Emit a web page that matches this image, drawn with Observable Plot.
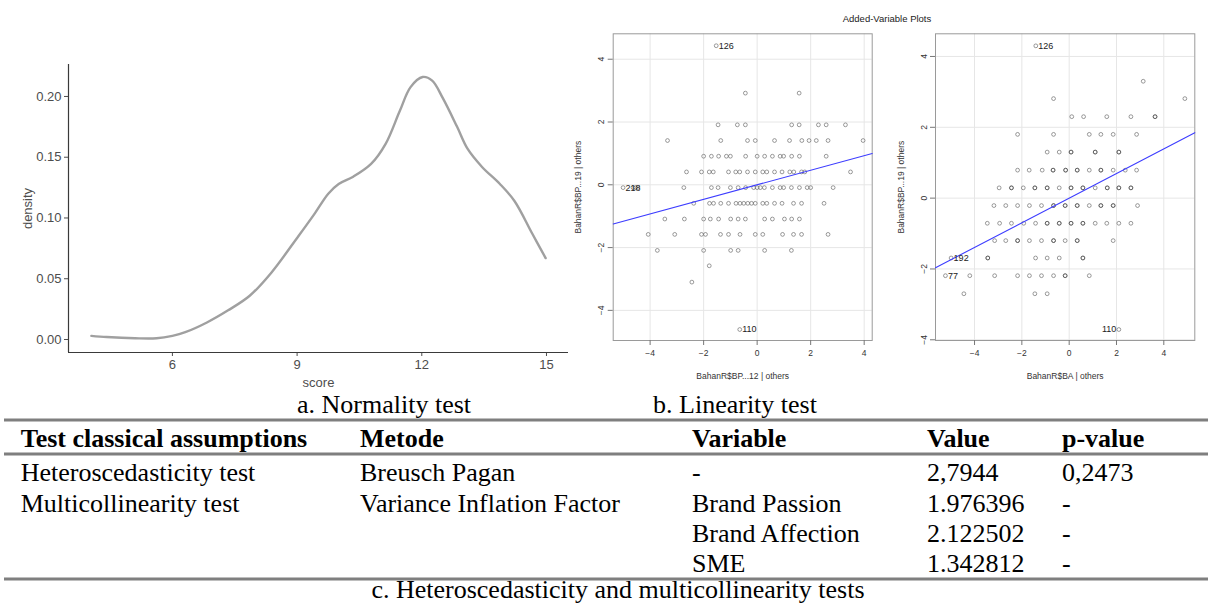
<!DOCTYPE html>
<html><head><meta charset="utf-8">
<script src="https://cdn.jsdelivr.net/npm/d3@7"></script>
<script src="https://cdn.jsdelivr.net/npm/@observablehq/plot@0.6"></script>
<style>
body{margin:0;background:#fff;}
#root{position:relative;width:1211px;height:608px;overflow:hidden;background:#fff;}
#root > svg, #root > figure{position:absolute;margin:0;}
</style></head><body><div id="root"></div>
<script>
// ---------- a. Normality test (density of score) ----------
const scoreX   = [4.05,4.42,5.10,5.62,6.00,6.31,6.83,7.34,7.86,8.38,9.03,9.41,9.75,10.00,10.35,10.78,11.13,11.47,11.73,12.02,12.25,12.50,12.85,13.10,13.45,13.88,14.23,14.66,14.98];
const densityY = [0.003,0.002,0.001,0.001,0.003,0.006,0.014,0.024,0.036,0.055,0.085,0.103,0.120,0.128,0.134,0.1445,0.161,0.188,0.2077,0.216,0.213,0.199,0.175,0.157,0.142,0.128,0.114,0.087,0.067];
const scoreTicks = [6,9,12,15];
const densityTicks = [0,0.05,0.10,0.15,0.20];

// ---------- b. Linearity test (added-variable plots) ----------
// Panel 1: BahanR$BP...12 | others  (rows of equal y)
const bpRowY = [2.92,1.91,1.41,0.91,0.41,-0.09,-0.59,-1.09,-1.58,-2.09,-2.58,-3.10];
const bpRowX = [
  [-0.44,1.57],
  [-1.46,-0.74,-0.44,1.29,1.57,2.29,2.58,3.30],
  [-3.35,-1.36,-0.36,-0.07,0.65,1.21,1.67,1.94,2.21,2.65,3.96],
  [-2.00,-1.71,-1.44,-1.15,-1.00,-0.43,0.00,0.28,0.57,0.86,0.99,1.29,1.58,2.58],
  [-2.64,-2.08,-1.79,-1.64,-1.07,-0.80,-0.65,-0.36,-0.07,0.21,0.36,0.65,0.93,1.22,1.37,1.66,1.78,3.49],
  [-4.64,-4.55,-4.46,-2.74,-1.71,-1.46,-1.00,-0.71,-0.43,-0.13,0.00,0.12,0.27,0.57,0.86,0.99,1.28,1.58,1.87,2.00,2.84],
  [-2.37,-1.78,-1.63,-1.36,-1.07,-0.79,-0.64,-0.50,-0.35,-0.21,-0.07,0.21,0.36,0.65,0.93,1.36,1.66,2.50],
  [-3.45,-2.72,-2.00,-1.75,-1.44,-0.99,-0.71,-0.44,0.28,0.57,1.02,1.29,1.58],
  [-4.07,-3.08,-2.08,-1.93,-1.37,-1.07,-0.64,-0.07,0.21,0.95,1.36,1.66,2.65],
  [-3.73,-2.00,-0.99,-0.71,0.28,1.28],
  [-1.79],
  [-2.44]
];
const bpLabelId = ["126","110","218"];
const bpLabelX  = [-1.53,-0.65,-5.01];
const bpLabelY  = [4.43,-4.61,-0.09];
const bpLabelSide = ["right","right","right"];
const bpSlope = 0.232;

// Panel 2: BahanR$BA | others
const baRowY = [3.30,2.81,2.30,1.80,1.30,0.79,0.29,-0.21,-0.71,-1.20,-1.69,-2.19,-2.70];
const baRowX = [
  [3.13],
  [-0.66,4.89],
  [0.11,0.61,1.59,2.61,3.63],
  [-2.18,-0.66,0.85,1.34,1.86,2.85],
  [-0.93,-0.42,0.08,1.10,2.10],
  [-2.18,-1.69,-1.14,-0.68,-0.15,0.34,0.85,1.34,1.86,2.37,2.85],
  [-2.96,-2.44,-1.94,-1.45,-0.93,-0.42,0.08,0.58,1.10,1.61,2.10,2.61],
  [-3.18,-2.68,-2.18,-1.68,-1.17,-0.66,-0.17,0.34,0.85,1.34,1.86,2.89],
  [-3.46,-2.94,-2.44,-1.92,-1.42,-0.93,-0.42,0.08,0.58,1.10,1.59,2.10,2.61],
  [-3.15,-2.68,-2.18,-1.68,-1.17,-0.66,-0.17,0.34,1.86],
  [-3.44,-1.42,-0.93,-0.42,0.58],
  [-4.20,-3.15,-2.18,-1.68,-1.17,-0.66,-0.17,0.85],
  [-4.45,-1.45,-0.93]
];
// points observed more than once (drawn darker in the original)
const baRepeatX = [3.63,0.08,1.10,2.10,-0.68,-0.15,0.34,1.34,-2.44,-1.45,-0.93,0.08,0.58,1.61,2.10,2.61,-0.66,-0.17,0.34,1.34,1.86,-0.93,-0.42,0.08,0.58,-2.18,-0.66,0.34,-3.44,0.58,-0.17];
const baRepeatY = [2.30,1.30,1.30,1.30,0.79,0.79,0.79,0.79,0.29,0.29,0.29,0.29,0.29,0.29,0.29,0.29,-0.21,-0.21,-0.21,-0.21,-0.21,-0.71,-0.71,-0.71,-0.71,-1.20,-1.20,-1.20,-1.69,-1.69,-2.19];
const baLabelId = ["126","110","192","77"];
const baLabelX  = [-1.41,2.10,-4.99,-5.23];
const baLabelY  = [4.30,-3.71,-1.69,-2.19];
const baLabelSide = ["right","left","right","right"];
const baSlope = 0.348;
const avTicks = [-4,-2,0,2,4];

// ---------- c. Table ----------
const tableHeader = ["Test classical assumptions","Metode","Variable","Value","p-value"];
const testNames  = ["Heteroscedasticity test","Multicollinearity test","",""];
const methods    = ["Breusch Pagan","Variance Inflation Factor","",""];
const variables  = ["-","Brand Passion","Brand Affection","SME"];
const valuesCol  = ["2,7944","1.976396","2.122502","1.342812"];
const pValues    = ["0,2473","-","-","-"];
const captions   = ["a. Normality test","b. Linearity test","c. Heteroscedasticity and multicollinearity tests"];
const plotTitle  = "Added-Variable Plots";

const root = document.getElementById("root");
const place = (el, left, top) => { el.style.left = left + "px"; el.style.top = top + "px"; root.appendChild(el); };

// ---- density plot ----
const dens = scoreX.map((x, i) => ({score: x, density: densityY[i]}));
const xDom = [3.5, 15.53], yDom = [-0.0107, 0.2263];
const densPlot = Plot.plot({
  width: 575, height: 392,
  marginLeft: 68, marginRight: 7, marginTop: 64, marginBottom: 40,
  x: {domain: xDom},
  y: {domain: yDom},
  style: {fontFamily: "Liberation Sans, Arial, sans-serif", fontSize: "13px", color: "#4d4d4d", background: "transparent", overflow: "visible"},
  marks: [
    Plot.axisX({ticks: scoreTicks, tickSize: 4, tickPadding: 3, label: "score", labelAnchor: "center", labelArrow: "none", labelOffset: 34, fill: "#4d4d4d", fontSize: 13}),
    Plot.axisY({ticks: densityTicks, tickSize: 4, tickPadding: 3, tickFormat: d3.format(".2f"), label: "density", labelAnchor: "center", labelArrow: "none", labelOffset: 46, fill: "#4d4d4d", fontSize: 13}),
    Plot.ruleX([xDom[0]], {stroke: "#3a3a3a", strokeWidth: 1.2}),
    Plot.ruleY([yDom[0]], {stroke: "#3a3a3a", strokeWidth: 1.2}),
    Plot.line(dens, {x: "score", y: "density", stroke: "#a0a0a0", strokeWidth: 2.4, curve: "catmull-rom"})
  ]
});
place(densPlot, 0, 0);

// ---- added-variable plots ----
function avPlot({rowY, rowX, repX = [], repY = [], labId, labX, labY, labSide, slope, xDomain, yDomain, xLabel, yLabel, width, margins}) {
  const pts = rowY.flatMap((y, i) => rowX[i].map(x => ({x, y})));
  const reps = repX.map((x, i) => ({x, y: repY[i]}));
  const labs = labId.map((t, i) => ({x: labX[i], y: labY[i], t, side: labSide[i]}));
  const fit = xDomain.map(x => ({x, y: slope * x}));
  const dotStyle = {x: "x", y: "y", r: 1.9, stroke: "#555", strokeOpacity: 0.65, strokeWidth: 0.9};
  return Plot.plot({
    width, height: 390,
    marginLeft: margins[0], marginRight: margins[1], marginTop: 33.3, marginBottom: 50,
    x: {domain: xDomain}, y: {domain: yDomain},
    style: {fontFamily: "Liberation Sans, Arial, sans-serif", fontSize: "8.5px", color: "#333", background: "transparent", overflow: "visible"},
    marks: [
      Plot.gridX(avTicks, {stroke: "#e6e6e6", strokeOpacity: 1}),
      Plot.gridY(avTicks, {stroke: "#e6e6e6", strokeOpacity: 1}),
      Plot.frame({stroke: "#9a9a9a"}),
      Plot.axisX({ticks: avTicks, tickSize: 5, tickPadding: 4, stroke: "#777", label: xLabel, labelAnchor: "center", labelArrow: "none", labelOffset: 38}),
      Plot.axisY({ticks: avTicks, tickSize: 5, tickPadding: 4, stroke: "#777", tickRotate: -90, label: yLabel, labelAnchor: "center", labelArrow: "none", labelOffset: 38}),
      Plot.dot(pts, dotStyle),
      Plot.dot(reps, {...dotStyle, stroke: "#333", strokeOpacity: 0.6}),
      Plot.dot(labs, dotStyle),
      Plot.line(fit, {x: "x", y: "y", stroke: "#3d3dff", strokeWidth: 1.1}),
      Plot.text(labs.filter(d => d.side === "right"), {x: "x", y: "y", text: "t", textAnchor: "start", dx: 2.5, fill: "#222", fontSize: 9}),
      Plot.text(labs.filter(d => d.side === "left"), {x: "x", y: "y", text: "t", textAnchor: "end", dx: -2.5, fill: "#222", fontSize: 9})
    ]
  });
}
const av1 = avPlot({rowY: bpRowY, rowX: bpRowX, labId: bpLabelId, labX: bpLabelX, labY: bpLabelY,
  labSide: bpLabelSide, slope: bpSlope,
  xDomain: [-5.38, 4.30], yDomain: [-4.96, 4.81],
  xLabel: "BahanR$BP...12 | others", yLabel: "BahanR$BP...19 | others", width: 330, margins: [52.7, 18.3]});
place(av1, 560, 0);
const av2 = avPlot({rowY: baRowY, rowX: baRowX, repX: baRepeatX, repY: baRepeatY, labId: baLabelId, labX: baLabelX, labY: baLabelY,
  labSide: baLabelSide, slope: baSlope,
  xDomain: [-5.65, 5.31], yDomain: [-4.02, 4.64],
  xLabel: "BahanR$BA | others", yLabel: "BahanR$BP...19 | others", width: 331, margins: [55, 16.7]});
place(av2, 880, 0);

// ---- title, captions and table (text) ----
const svg = d3.create("svg").attr("width", 1211).attr("height", 608).style("pointer-events", "none");
svg.append("text").attr("x", 887).attr("y", 22).attr("text-anchor", "middle")
  .attr("font-family", "Liberation Sans, Arial, sans-serif").attr("font-size", 9.5).attr("fill", "#222").text(plotTitle);
const serif = "Liberation Serif, Times New Roman, serif";
const cap = svg.append("g").attr("font-family", serif).attr("font-size", 26).attr("fill", "#000");
cap.append("text").attr("x", 297).attr("y", 413).text(captions[0]);
cap.append("text").attr("x", 735).attr("y", 413).attr("text-anchor", "middle").text(captions[1]);
cap.append("text").attr("x", 618).attr("y", 598).attr("text-anchor", "middle").text(captions[2]);
const colX = [20.7, 360, 692, 927, 1062];
[420, 454, 579].forEach(y => svg.append("line").attr("x1", 4).attr("x2", 1208).attr("y1", y).attr("y2", y).attr("stroke", "#7f7f7f").attr("stroke-width", 3));
const hdr = svg.append("g").attr("font-family", serif).attr("font-size", 26).attr("font-weight", "bold");
tableHeader.forEach((h, i) => hdr.append("text").attr("x", colX[i]).attr("y", 447).text(h));
const rowBase = [481, 511.5, 541.5, 571.5];
const body = svg.append("g").attr("font-family", serif).attr("font-size", 26);
const cols = [testNames, methods, variables, valuesCol, pValues];
rowBase.forEach((y, r) => cols.forEach((c, i) => { if (c[r]) body.append("text").attr("x", colX[i]).attr("y", y).text(c[r]); }));
const tnode = svg.node();
tnode.style.position = "absolute"; tnode.style.left = "0px"; tnode.style.top = "0px";
root.insertBefore(tnode, root.firstChild);
</script></body></html>
